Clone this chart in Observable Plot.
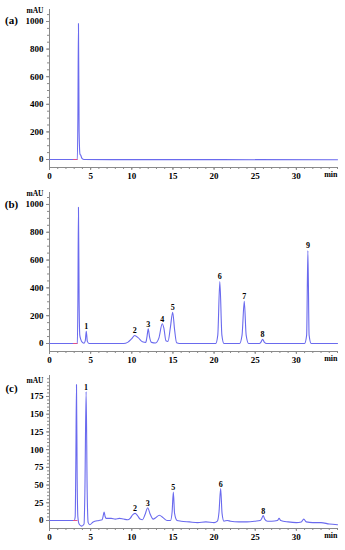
<!DOCTYPE html>
<html><head><meta charset="utf-8">
<script src="https://cdn.jsdelivr.net/npm/d3@7"></script>
<script src="https://cdn.jsdelivr.net/npm/@observablehq/plot@0.6"></script>
<style>
body{margin:0;background:#fff;}
#chart{width:345px;}
#chart svg{display:block;font-family:'Liberation Serif','Times New Roman',serif;}
</style></head><body><div id="chart"></div>
<script>
// ---- data ----
const timeA  = [0, 3.2, 3.38, 3.45, 3.52, 3.6, 3.7, 3.8, 3.95, 4.2, 10, 20, 35];
const valueA = [0, 0, 1, 300, 985, 200, 40, 30, 8, 0, -1, -1, -2];

const timeB  = [0, 3.2, 3.38, 3.45, 3.52, 3.6, 3.68, 3.8, 4.0, 4.2, 4.35, 4.47, 4.6, 4.8, 9.0, 9.5, 10.0, 10.35, 10.8, 11.3, 11.7, 11.85, 12.0, 12.15, 12.4, 12.9, 13.3, 13.7, 13.9, 14.15, 14.4, 14.7, 14.97, 15.2, 15.45, 15.8, 20.2, 20.45, 20.7, 20.95, 21.2, 23.1, 23.4, 23.67, 23.9, 24.2, 25.5, 25.7, 25.9, 26.1, 26.4, 31.0, 31.25, 31.4, 31.55, 31.8, 35];
const valueB = [0, 0, 2, 300, 980, 300, 60, 30, 8, 2, 20, 88, 15, 0, 0, 8, 35, 58, 40, 12, 8, 50, 106, 50, 8, 4, 40, 142, 110, 20, 15, 120, 225, 100, 5, 0, 0, 60, 446, 60, 0, 0, 60, 304, 60, 0, 0, 10, 31, 10, 0, 0, 60, 669, 60, 0, 0];

const timeC  = [0, 2.5, 3.0, 3.12, 3.2, 3.28, 3.36, 3.45, 3.6, 3.9, 4.2, 4.3, 4.45, 4.58, 4.7, 4.9, 5.3, 6.0, 6.4, 6.55, 6.64, 6.75, 6.9, 7.5, 8.0, 8.5, 9.0, 9.5, 9.8, 10.1, 10.4, 10.7, 11.0, 11.3, 11.6, 11.94, 12.2, 12.6, 12.9, 13.35, 13.8, 14.3, 14.7, 14.9, 15.05, 15.2, 15.5, 16, 17, 18, 19, 20, 20.4, 20.6, 20.8, 20.97, 21.2, 21.6, 22, 23, 24, 25, 25.6, 25.8, 25.97, 26.15, 26.5, 27, 27.7, 27.9, 28.1, 29, 30, 30.6, 30.9, 31.2, 32, 33, 34, 35];
const valueC = [0, 0, 0, 5, 80, 192, 60, 5, -5, -8, -5, 40, 182, 40, -3, -6, -2, 0, 1, 8, 12, 6, 3, 3, 2, 3, 2, 1, 3, 8, 10, 7, 2, 1, 8, 18, 10, 2, 4, 7.5, 4, 0, 0, 12, 40, 10, 0, -1, -2, -3, -2, -3, -1, 12, 45, 10, -1, 0, -1, -2, -2, -1, 0, 3, 7, 2, -1, -1, 0, 3, 0, -2, -3, -2, 2, -2, -3, -3, -5, -6];

const pinkTime = [2.9, 3.35];
const pinkValue = [0, 0];

const peakLabelsB  = ["1", "2", "3", "4", "5", "6", "7", "8", "9"];
const peakTimesB   = [4.47, 10.35, 12.0, 13.7, 14.97, 20.7, 23.67, 25.9, 31.4];
const peakHeightsB = [88, 58, 106, 142, 225, 446, 304, 31, 669];

const peakLabelsC  = ["1", "2", "3", "5", "6", "8"];
const peakTimesC   = [4.45, 10.4, 11.94, 15.05, 20.8, 25.97];
const peakHeightsC = [182, 10, 18, 40, 45, 7];

const xTicks = [0, 5, 10, 15, 20, 25, 30];
const xMinorTicks = d3.range(0, 36);
const yTicksAB = [0, 200, 400, 600, 800, 1000];
const yMinorAB = d3.range(0, 1051, 50);
const yTicksC = [0, 25, 50, 75, 100, 125, 150, 175];
const yMinorC = d3.range(0, 201, 5);
const panelLetters = ["(a)", "(b)", "(c)"];
const yUnit = "mAU";
const xUnit = "min";

const lineColor = "#6a6aee";
const axisColor = "#8a8a8a";
const font = "'Liberation Serif', 'Times New Roman', serif";

function panel({time, value, letter, yDomain, yTicks, yMinor, peaks, height, marginTop, marginBottom, letterDy, unitDy}) {
  const data = time.map((t, i) => ({t, v: value[i]}));
  const pink = pinkTime.map((t, i) => ({t, v: pinkValue[i]}));
  const marks = [
    Plot.ruleX([0], {stroke: axisColor}),
    Plot.ruleY([yDomain[0]], {stroke: axisColor}),
    Plot.axisY({ticks: yMinor, tickSize: 2, tickFormat: () => "", stroke: axisColor, label: null}),
    Plot.axisY({ticks: yTicks, tickSize: 3, tickPadding: 3, tickFormat: d => String(d), stroke: axisColor, fill: "#000", label: null, fontSize: 9}),
    Plot.axisX({ticks: xMinorTicks, tickSize: 2, tickFormat: () => "", stroke: axisColor, label: null}),
    Plot.axisX({ticks: xTicks, tickSize: 3, tickPadding: 2, tickFormat: d => String(d), stroke: axisColor, fill: "#000", label: null, fontSize: 9}),
    Plot.line(data, {x: "t", y: "v", stroke: lineColor, strokeWidth: 1.1, curve: "monotone-x"}),
    Plot.line(pink, {x: "t", y: "v", stroke: "#e0508a", strokeWidth: 1}),
    Plot.text([letter], {text: d => d, frameAnchor: "top-left", dx: -38, dy: letterDy, fontSize: 11, textAnchor: "middle"}),
    Plot.text([yUnit], {text: d => d, frameAnchor: "top-left", dx: -6, dy: unitDy, fontSize: 7.5, textAnchor: "end"}),
    Plot.text([xUnit], {text: d => d, frameAnchor: "bottom-right", dy: 9.5, fontSize: 8, textAnchor: "end"})
  ];
  if (peaks) {
    const pk = peaks.labels.map((l, i) => ({l, t: peaks.times[i], v: peaks.heights[i]}));
    marks.push(Plot.text(pk, {x: "t", y: "v", text: "l", lineAnchor: "bottom", dy: -2, fontSize: 8, fill: "#000"}));
  }
  return Plot.plot({
    width: 345, height, marginLeft: 49, marginRight: 8, marginTop, marginBottom,
    x: {domain: [0, 35]},
    y: {domain: yDomain},
    style: {fontFamily: font, fontWeight: "bold", fontSize: "9px", color: "#000", background: "#fff"},
    marks
  });
}

const chart = document.getElementById("chart");
chart.append(panel({time: timeA, value: valueA, letter: panelLetters[0], yDomain: [-58, 1087], yTicks: yTicksAB, yMinor: yMinorAB,
  height: 182, marginTop: 9, marginBottom: 15, letterDy: 7, unitDy: -1.5}));
chart.append(panel({time: timeB, value: valueB, letter: panelLetters[1], yDomain: [-57.6, 1086], yTicks: yTicksAB, yMinor: yMinorAB,
  peaks: {labels: peakLabelsB, times: peakTimesB, heights: peakHeightsB},
  height: 184, marginTop: 10, marginBottom: 15, letterDy: 8, unitDy: -1.5}));
chart.append(panel({time: timeC, value: valueC, letter: panelLetters[2], yDomain: [-11.3, 204.6], yTicks: yTicksC, yMinor: yMinorC,
  peaks: {labels: peakLabelsC, times: peakTimesC, heights: peakHeightsC},
  height: 184, marginTop: 9, marginBottom: 22, letterDy: 9, unitDy: 2}));
</script></body></html>
